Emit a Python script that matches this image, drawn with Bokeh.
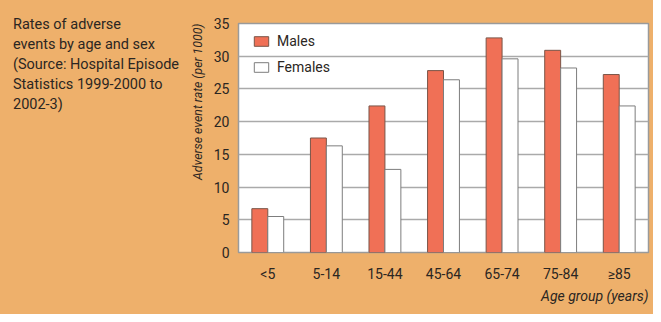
from bokeh.plotting import figure
from bokeh.layouts import row
from bokeh.models import ColumnDataSource, FactorRange, Range1d, FixedTicker, Legend, LegendItem, Div, Title
from bokeh.transform import dodge
from bokeh.embed import file_html
from bokeh.resources import INLINE

categories = ["<5", "5-14", "15-44", "45-64", "65-74", "75-84", "≥85"]
males = [6.7, 17.5, 22.4, 27.8, 32.8, 30.9, 27.2]
females = [5.5, 16.3, 12.7, 26.4, 29.6, 28.2, 22.4]
y_ticks = [0, 5, 10, 15, 20, 25, 30, 35]
title_lines = ["Rates of adverse", "events by age and sex", "(Source: Hospital Episode",
               "Statistics 1999-2000 to", "2002-3)"]

FONT = "Roboto"
BG = "#EEB06B"
TXT = "#2b2622"
LEFT_W = 182

# Left panel holding the descriptive text
t = Div(text="<div style='padding:15px 0 0 13px;line-height:20px;white-space:nowrap;'>" + "<br>".join(title_lines) + "</div>",
        width=LEFT_W, height=314,
        styles={"background-color": BG, "font-family": FONT, "font-size": "14.5px", "color": TXT,
                "margin": "0", "padding": "0", "overflow": "visible"})

src = ColumnDataSource(dict(cat=categories, m=males, f=females))

p = figure(width=653 - LEFT_W, height=314, output_backend="svg", toolbar_location=None,
           x_range=FactorRange(*categories), y_range=Range1d(0, 35),
           min_border_left=236 - LEFT_W, min_border_right=5, min_border_top=23, min_border_bottom=62)
p.background_fill_color = "white"
p.border_fill_color = BG
p.outline_line_color = "#9a9a9a"
p.outline_line_width = 1.5

rm = p.vbar(x=dodge("cat", -0.136, range=p.x_range), top="m", width=0.272, source=src,
            fill_color="#F07056", line_color="#7a5548", line_width=1)
rf = p.vbar(x=dodge("cat", 0.136, range=p.x_range), top="f", width=0.272, source=src,
            fill_color="white", line_color="#7d7d7d", line_width=1)

p.xgrid.grid_line_color = None
p.ygrid.grid_line_color = "#aaaaaa"
p.ygrid.grid_line_width = 1.5
p.yaxis.ticker = FixedTicker(ticks=y_ticks)

for ax in (p.xaxis[0], p.yaxis[0]):
    ax.axis_line_color = None
    ax.major_tick_line_color = None
    ax.minor_tick_line_color = None
    ax.major_label_text_font = FONT
    ax.major_label_text_font_size = "14px"
    ax.major_label_text_color = TXT
p.yaxis.major_label_standoff = 3
p.xaxis.major_label_standoff = 7

p.add_layout(Title(text="Age group (years)", align="right", text_font=FONT, text_font_style="italic",
                   text_font_size="14px", text_color=TXT, standoff=3), "below")
p.add_layout(Title(text="Adverse event rate (per 1000)", align="right", text_font=FONT,
                   text_font_style="italic", text_font_size="12.3px", text_color=TXT, standoff=12), "left")

legend = Legend(items=[LegendItem(label="Males", renderers=[rm]),
                       LegendItem(label="Females", renderers=[rf])],
                location=(14, 175), padding=0, margin=0, spacing=6,
                glyph_width=18, glyph_height=12, label_standoff=7, label_height=20,
                label_text_font=FONT, label_text_font_size="14px", label_text_color=TXT,
                background_fill_alpha=0, border_line_color=None)
p.add_layout(legend, "center")

layout = row(t, p, spacing=0, styles={"background-color": BG})
open("out.html", "w").write(file_html(layout, INLINE))
